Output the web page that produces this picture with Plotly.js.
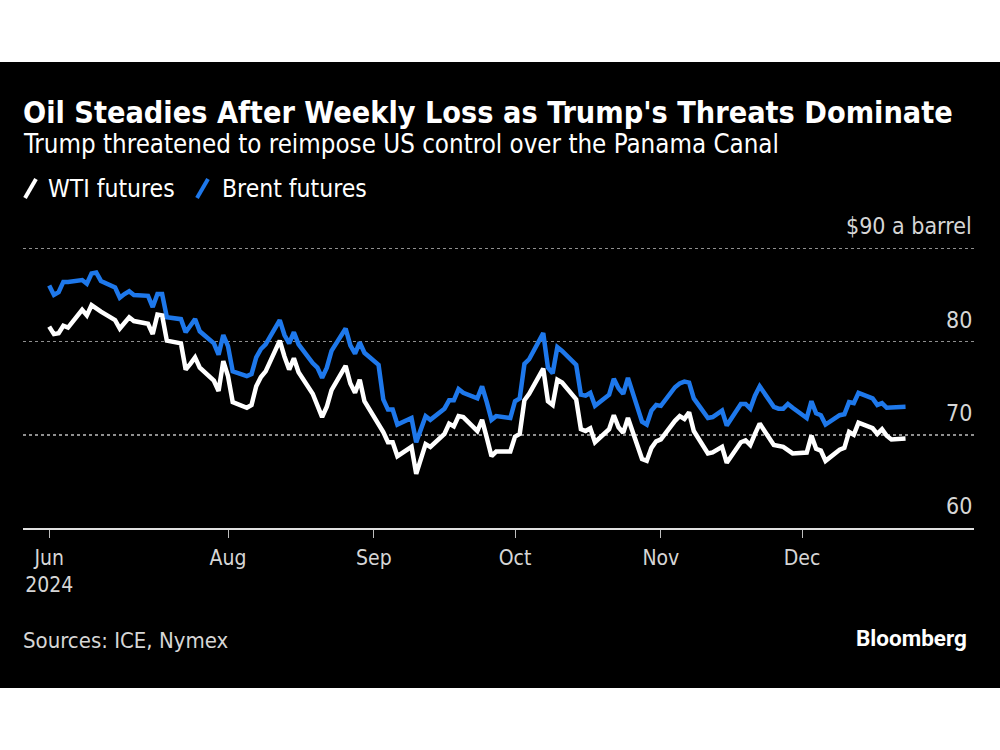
<!DOCTYPE html>
<html>
<head>
<meta charset="utf-8">
<script src="https://cdn.plot.ly/plotly-3.0.1.min.js"></script>
<style>
  html, body { margin: 0; padding: 0; background: #ffffff; width: 1000px; height: 750px; overflow: hidden; }
  #chart { position: absolute; left: 0; top: 62px; width: 1000px; height: 626px; }
</style>
</head>
<body>
<div id="chart"></div>
<script>
// ---- Data ----
const dates = [
  "2024-06-24","2024-06-25","2024-06-26","2024-06-27","2024-06-28",
  "2024-07-01","2024-07-02","2024-07-03","2024-07-04","2024-07-05",
  "2024-07-08","2024-07-09","2024-07-10","2024-07-11","2024-07-12",
  "2024-07-15","2024-07-16","2024-07-17","2024-07-18","2024-07-19",
  "2024-07-22","2024-07-23","2024-07-24","2024-07-25","2024-07-26",
  "2024-07-29","2024-07-30","2024-07-31","2024-08-01","2024-08-02",
  "2024-08-05","2024-08-06","2024-08-07","2024-08-08","2024-08-09",
  "2024-08-12","2024-08-13","2024-08-14","2024-08-15","2024-08-16",
  "2024-08-19","2024-08-20","2024-08-21","2024-08-22","2024-08-23",
  "2024-08-26","2024-08-27","2024-08-28","2024-08-29","2024-08-30",
  "2024-09-02","2024-09-03","2024-09-04","2024-09-05","2024-09-06",
  "2024-09-09","2024-09-10","2024-09-11","2024-09-12","2024-09-13",
  "2024-09-16","2024-09-17","2024-09-18","2024-09-19","2024-09-20",
  "2024-09-23","2024-09-24","2024-09-25","2024-09-26","2024-09-27",
  "2024-09-30","2024-10-01","2024-10-02","2024-10-03","2024-10-04",
  "2024-10-07","2024-10-08","2024-10-09","2024-10-10","2024-10-11",
  "2024-10-14","2024-10-15","2024-10-16","2024-10-17","2024-10-18",
  "2024-10-21","2024-10-22","2024-10-23","2024-10-24","2024-10-25",
  "2024-10-28","2024-10-29","2024-10-30","2024-10-31","2024-11-01",
  "2024-11-04","2024-11-05","2024-11-06","2024-11-07","2024-11-08",
  "2024-11-11","2024-11-12","2024-11-13","2024-11-14","2024-11-15",
  "2024-11-18","2024-11-19","2024-11-20","2024-11-21","2024-11-22",
  "2024-11-25","2024-11-26","2024-11-27","2024-11-28","2024-11-29",
  "2024-12-02","2024-12-03","2024-12-04","2024-12-05","2024-12-06",
  "2024-12-09","2024-12-10","2024-12-11","2024-12-12","2024-12-13",
  "2024-12-16","2024-12-17","2024-12-18","2024-12-19","2024-12-20",
  "2024-12-23"
];
const wti = [
  81.6,80.8,80.9,81.7,81.5,
  83.4,82.8,83.9,null,83.2,
  82.3,81.4,82.1,82.6,82.2,
  81.9,80.8,82.9,82.8,80.1,
  79.8,77.0,77.6,78.3,77.2,
  75.8,74.7,77.9,76.3,73.5,
  72.9,73.2,75.2,76.2,76.8,
  80.1,78.4,77.0,78.2,76.7,
  74.4,73.2,71.9,73.0,74.8,
  77.4,75.5,74.5,75.9,73.6,
  null,70.3,69.2,69.2,67.7,
  68.7,65.8,67.3,69.0,68.7,
  70.1,71.2,70.9,72.0,71.9,
  70.4,71.6,69.7,67.7,68.2,
  68.2,69.8,70.1,73.7,74.4,
  77.1,73.6,73.2,75.9,75.6,
  73.8,70.6,70.4,70.7,69.2,
  70.6,72.1,70.8,70.2,71.8,
  67.4,67.2,68.6,69.3,69.5,
  71.5,72.0,71.7,72.4,70.4,
  68.0,68.1,68.4,68.7,67.0,
  69.2,69.4,68.9,70.1,71.2,
  68.9,68.8,68.7,null,68.0,
  68.1,69.9,68.5,68.3,67.2,
  68.4,68.6,70.3,70.0,71.3,
  70.7,70.1,70.6,69.9,69.5,
  69.6
];
const brent = [
  86.0,85.0,85.3,86.4,86.4,
  86.6,86.2,87.3,87.4,86.5,
  85.8,84.7,85.1,85.4,85.0,
  84.9,83.7,85.1,85.1,82.6,
  82.4,81.0,81.7,82.4,81.1,
  79.8,78.6,80.7,79.5,76.8,
  76.3,76.5,78.3,79.2,79.7,
  82.3,80.7,79.8,81.0,79.7,
  77.7,77.2,76.1,77.2,79.0,
  81.4,79.6,78.7,79.9,78.8,
  77.5,73.8,72.7,72.7,71.1,
  71.8,69.2,70.6,72.0,71.6,
  72.8,73.7,73.7,74.9,74.5,
  73.9,75.2,73.5,71.6,72.0,
  71.8,73.6,73.9,77.6,78.1,
  80.9,77.2,76.6,79.4,79.0,
  77.5,74.3,74.2,74.5,73.1,
  74.3,76.0,75.0,74.4,76.1,
  71.4,71.1,72.6,73.2,73.1,
  75.1,75.5,75.7,75.6,73.9,
  71.8,71.9,72.3,72.6,71.0,
  73.3,73.3,72.8,74.2,75.2,
  73.0,72.8,72.8,73.3,72.9,
  71.8,73.6,72.3,72.1,71.1,
  72.1,72.2,73.5,73.4,74.5,
  73.9,73.2,73.4,72.9,72.9,
  73.0
];
const seriesNames = ["WTI futures", "Brent futures"];
const yTickVals = [60, 70, 80, 90];
const yTickText = ["60", "70", "80", "$90 a barrel"];
const xTickVals = ["2024-06-24", "2024-08-01", "2024-09-01", "2024-10-01", "2024-11-01", "2024-12-01"];
const xTickText = ["Jun<br>2024", "Aug", "Sep", "Oct", "Nov", "Dec"];
const titleText = "Oil Steadies After Weekly Loss as Trump's Threats Dominate";
const subtitleText = "Trump threatened to reimpose US control over the Panama Canal";
const sourceText = "Sources: ICE, Nymex";

// ---- Layout helpers (screen pixel -> paper coords) ----
const OFF = 62;               // div top on page
const PL = 23, PR = 974;      // plot left/right (page px)
const PT = 239, PB = 528.3;   // plot top/bottom (page px)
const px = x => (x - PL) / (PR - PL);
const py = y => (PB - y) / (PB - PT);

const FONT = "'Liberation Sans Narrow', 'DejaVu Sans Condensed', 'Roboto Condensed', 'Noto Sans', sans-serif";
const WHITE = "#ffffff";
const BLUE = "#1e78eb";
const LABEL = "#d6d6d6";

const traces = [
  { x: dates, y: brent, name: seriesNames[1], type: "scatter", mode: "lines",
    line: { color: BLUE, width: 4.5 }, connectgaps: true, hoverinfo: "skip" },
  { x: dates, y: wti, name: seriesNames[0], type: "scatter", mode: "lines",
    line: { color: WHITE, width: 4.5 }, connectgaps: true, hoverinfo: "skip" }
];

// y-axis labels sit above their gridlines, right-aligned inside the plot
const yLabelAnns = yTickVals.map((v, i) => ({
  text: yTickText[i], xref: "paper", yref: "y", x: 1, y: v,
  xanchor: "right", yanchor: "middle", yshift: 22, showarrow: false,
  font: { family: FONT, size: 23, color: LABEL }
}));

const layout = {
  width: 1000, height: 626,
  paper_bgcolor: "#000000", plot_bgcolor: "#000000",
  showlegend: false,
  margin: { l: PL, r: 1000 - PR, t: PT - OFF, b: 626 - (PB - OFF), pad: 0, autoexpand: false },
  font: { family: FONT, color: LABEL, size: 20 },
  xaxis: {
    type: "date",
    range: ["2024-06-18 10:19", "2025-01-06 13:12"],
    tickmode: "array", tickvals: xTickVals, ticktext: xTickText,
    showgrid: false, zeroline: false,
    showline: true, linecolor: "#e0e0e0", linewidth: 1.5,
    ticks: "outside", ticklen: 8, tickwidth: 1, tickcolor: "#bdbdbd",
    tickfont: { family: FONT, size: 21, color: LABEL },
    ticklabelstandoff: 2,
    automargin: false, fixedrange: true
  },
  yaxis: {
    range: [60, 91], side: "right",
    tickmode: "array", tickvals: yTickVals, showticklabels: false,
    showgrid: true, gridcolor: "#8f8f8f", gridwidth: 1.6, griddash: "dot",
    zeroline: false, showline: false, ticks: "",
    automargin: false, fixedrange: true
  },
  annotations: [
    { text: "<b>" + titleText + "</b>", xref: "paper", yref: "paper", x: px(21), y: py(112),
      xanchor: "left", yanchor: "middle", showarrow: false,
      font: { family: FONT, size: 30.3, color: WHITE } },
    { text: subtitleText, xref: "paper", yref: "paper", x: px(21), y: py(144),
      xanchor: "left", yanchor: "middle", showarrow: false,
      font: { family: FONT, size: 25.7, color: WHITE } },
    { text: seriesNames[0], xref: "paper", yref: "paper", x: px(46), y: py(188),
      xanchor: "left", yanchor: "middle", showarrow: false,
      font: { family: FONT, size: 24.5, color: WHITE } },
    { text: seriesNames[1], xref: "paper", yref: "paper", x: px(220), y: py(188),
      xanchor: "left", yanchor: "middle", showarrow: false,
      font: { family: FONT, size: 24.5, color: WHITE } },
    { text: sourceText, xref: "paper", yref: "paper", x: px(21), y: py(641),
      xanchor: "left", yanchor: "middle", showarrow: false,
      font: { family: FONT, size: 22, color: LABEL } },
    { text: "<b>Bloomberg</b>", xref: "paper", yref: "paper", x: px(969), y: py(638),
      xanchor: "right", yanchor: "middle", showarrow: false,
      font: { family: "Roboto, 'Liberation Sans', sans-serif", size: 22.5, color: WHITE } }
  ].concat(yLabelAnns),
  shapes: [
    { type: "line", xref: "paper", yref: "paper", x0: px(25), y0: py(198), x1: px(36), y1: py(179),
      line: { color: WHITE, width: 4 } },
    { type: "line", xref: "paper", yref: "paper", x0: px(197), y0: py(198), x1: px(208), y1: py(179),
      line: { color: BLUE, width: 4 } }
  ]
};

Plotly.newPlot("chart", traces, layout, { staticPlot: true, displayModeBar: false });
</script>
</body>
</html>
